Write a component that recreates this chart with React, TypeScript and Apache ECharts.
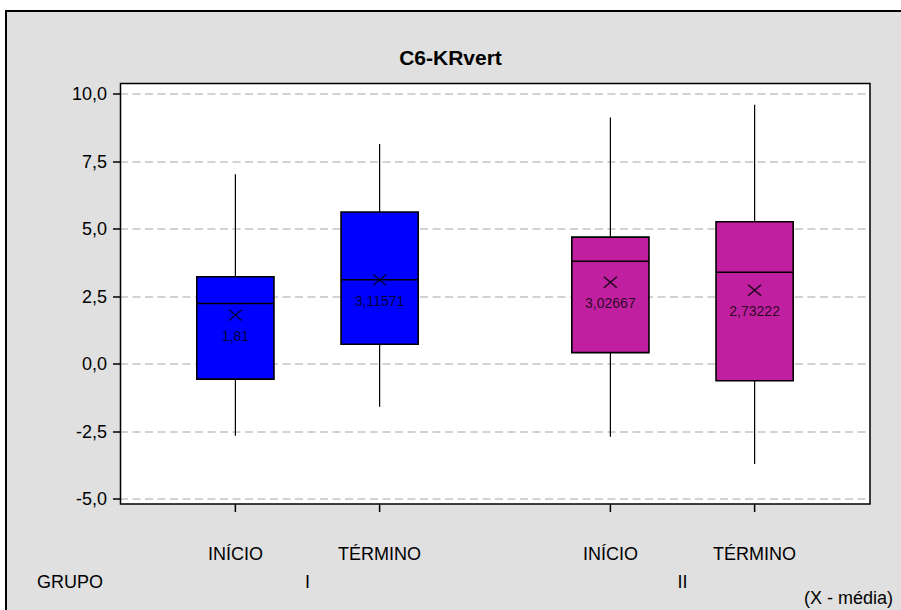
import React, { useEffect, useRef } from "react";
import * as echarts from "echarts";

// ---- data ----
const categories = ["INÍCIO", "TÉRMINO", "INÍCIO", "TÉRMINO"];
const positions = [1, 2, 3.6, 4.6];
const groupNames = ["I", "II"];
const groupPositions = [1.5, 4.1];
const groupOfBox = [0, 0, 1, 1];
const whiskerLow = [-2.66, -1.58, -2.69, -3.7];
const q1 = [-0.56, 0.73, 0.42, -0.62];
const median = [2.24, 3.12, 3.81, 3.4];
const q3 = [3.23, 5.63, 4.7, 5.27];
const whiskerHigh = [7.03, 8.15, 9.13, 9.6];
const means = [1.81, 3.11571, 3.02667, 2.73222];

const Y_MIN = -5;
const Y_MAX = 10;
const Y_STEP = 2.5;

const FONT = "'Liberation Sans', Arial, sans-serif";
const groupColors = ["#0000FF", "#C020A0"];
const BOX_W = 0.535;

export default function App() {
  const ref = useRef<HTMLDivElement>(null);
  useEffect(() => {
    if (!ref.current) return;
    const chart = echarts.init(ref.current, undefined, { renderer: "svg" });
    const boxData = positions.map((p, i) => [
      p,
      whiskerLow[i],
      q1[i],
      median[i],
      q3[i],
      whiskerHigh[i],
      groupOfBox[i],
    ]);
    const meanData = positions.map((p, i) => [p, means[i]]);
    const option: any = {
      animation: false,
      backgroundColor: "#ffffff",
      title: {
        text: "C6-KRvert",
        left: "center",
        top: 47,
        padding: 0,
        textStyle: { fontFamily: FONT, fontSize: 21, fontWeight: "bold", color: "#000" },
      },
      grid: { left: 120, right: 31, top: 94, bottom: 111, containLabel: false },
      xAxis: [
        {
          type: "value",
          min: 0.2,
          max: 5.4,
          position: "bottom",
          offset: 5,
          axisLine: { show: false },
          splitLine: { show: false },
          axisTick: { show: false },
          axisLabel: {
            show: true,
            customValues: positions,
            margin: 41,
            fontFamily: FONT,
            fontSize: 18,
            color: "#000",
            formatter: (v: number) => {
              const i = positions.findIndex((p) => Math.abs(p - v) < 1e-6);
              return i >= 0 ? categories[i] : "";
            },
          },
        },
        {
          type: "value",
          min: 0.2,
          max: 5.4,
          position: "bottom",
          offset: 5,
          axisLine: { show: false },
          splitLine: { show: false },
          axisTick: { show: false },
          axisLabel: {
            show: true,
            customValues: groupPositions,
            margin: 69,
            fontFamily: FONT,
            fontSize: 18,
            color: "#000",
            formatter: (v: number) => {
              const i = groupPositions.findIndex((p) => Math.abs(p - v) < 1e-6);
              return i >= 0 ? groupNames[i] : "";
            },
          },
        },
      ],
      yAxis: {
        type: "value",
        min: Y_MIN,
        max: Y_MAX,
        interval: Y_STEP,
        axisLine: { show: false },
        axisTick: { show: true, length: 7, lineStyle: { color: "#000", width: 1.5 } },
        axisLabel: {
          margin: 13,
          fontFamily: FONT,
          fontSize: 18,
          color: "#000",
          formatter: (v: number) => v.toFixed(1).replace(".", ","),
        },
        splitLine: {
          show: true,
          lineStyle: { color: "#c4c4c4", width: 1.5, type: [8, 4.5] },
        },
      },
      graphic: [
        {
          type: "rect",
          z: -10,
          silent: true,
          shape: { x: 6, y: 11, width: 920, height: 630 },
          style: { fill: "#e0e0e0", stroke: "#000", lineWidth: 2 },
        },
        {
          type: "rect",
          z: -5,
          silent: true,
          shape: { x: 120.5, y: 83.5, width: 749.5, height: 420.5 },
          style: { fill: "#ffffff" },
        },
        {
          type: "rect",
          z: 50,
          silent: true,
          shape: { x: 120.5, y: 83.5, width: 749.5, height: 420.5 },
          style: { fill: "none", stroke: "#000", lineWidth: 1.5 },
        },
        {
          type: "text",
          z: 50,
          x: 37,
          y: 582,
          style: {
            text: "GRUPO",
            fontFamily: FONT,
            fontSize: 18,
            fill: "#000",
            align: "left",
            verticalAlign: "middle",
          },
        },
        {
          type: "text",
          z: 50,
          x: 893,
          y: 598,
          style: {
            text: "(X - média)",
            fontFamily: FONT,
            fontSize: 18,
            fill: "#000",
            align: "right",
            verticalAlign: "middle",
          },
        },
      ],
      series: [
        {
          type: "custom",
          xAxisIndex: 0,
          z: 2,
          clip: false,
          encode: { x: 0, y: [1, 2, 3, 4, 5] },
          data: boxData,
          renderItem: (params: any, api: any) => {
            const x = api.value(0);
            const pLo = api.coord([x, api.value(1)]);
            const pQ1 = api.coord([x, api.value(2)]);
            const pMed = api.coord([x, api.value(3)]);
            const pQ3 = api.coord([x, api.value(4)]);
            const pHi = api.coord([x, api.value(5)]);
            const pBase = api.coord([x, Y_MIN]);
            const w = api.size([BOX_W, 0])[0];
            const color = groupColors[api.value(6)];
            const cx = pQ1[0];
            return {
              type: "group",
              children: [
                {
                  type: "line",
                  shape: { x1: cx, y1: pHi[1], x2: cx, y2: pQ3[1] },
                  style: { stroke: "#000", lineWidth: 1.2 },
                },
                {
                  type: "line",
                  shape: { x1: cx, y1: pQ1[1], x2: cx, y2: pLo[1] },
                  style: { stroke: "#000", lineWidth: 1.2 },
                },
                {
                  type: "rect",
                  shape: { x: cx - w / 2, y: pQ3[1], width: w, height: pQ1[1] - pQ3[1] },
                  style: { fill: color, stroke: "#000", lineWidth: 1.6 },
                },
                {
                  type: "line",
                  shape: { x1: cx - w / 2, y1: pMed[1], x2: cx + w / 2, y2: pMed[1] },
                  style: { stroke: "#000", lineWidth: 1.5 },
                },
                {
                  type: "line",
                  shape: { x1: cx, y1: pBase[1] + 5, x2: cx, y2: pBase[1] + 13 },
                  style: { stroke: "#000", lineWidth: 1.5 },
                },
              ],
            };
          },
        },
        {
          type: "scatter",
          xAxisIndex: 0,
          z: 3,
          data: meanData,
          symbol: "path://M0,0L10,10M10,0L0,10",
          symbolSize: [13, 11],
          itemStyle: { color: "transparent", borderColor: "#000", borderWidth: 1.5 },
          label: {
            show: true,
            position: "bottom",
            distance: 8,
            fontFamily: FONT,
            fontSize: 14,
            color: "#000",
            formatter: (p: any) => String(means[p.dataIndex]).replace(".", ","),
          },
        },
      ],
    };
    chart.setOption(option);
    return () => chart.dispose();
  }, []);
  return (
    <div
      ref={ref}
      style={{ position: "fixed", left: 0, top: 0, width: 901, height: 610 }}
    />
  );
}
